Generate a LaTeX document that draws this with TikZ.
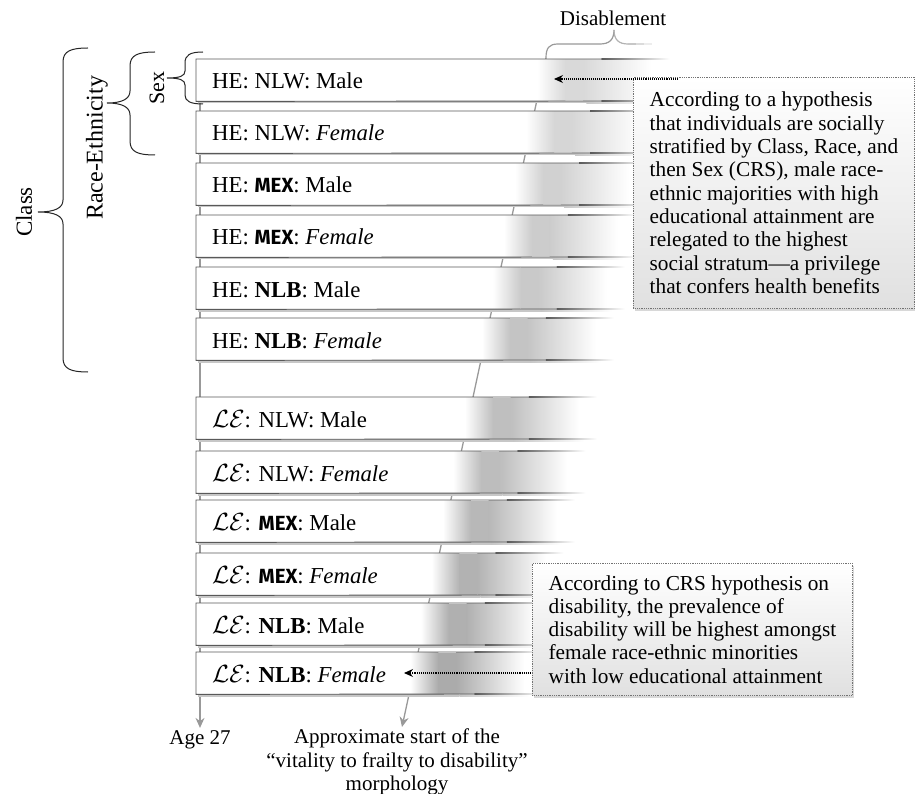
\documentclass[tikz,border=0pt]{standalone}
\usepackage{fontspec}
\setmainfont{Liberation Serif}
\newfontfamily\mexfont{Fira Sans}
\usetikzlibrary{arrows.meta,shadows}
\newcommand\myMEX{{\mexfont\bfseries\fontsize{20.5}{22}\selectfont MEX}}
\newcommand\myLE{{\fontsize{24}{26}\selectfont$\mathcal{L}\mathcal{E}$}}
\begin{document}
\begin{tikzpicture}[x=1pt,y=-1pt,
  txt/.style={font=\fontsize{21}{23.5}\selectfont, inner sep=0pt},
  lbl/.style={font=\fontsize{22.8}{26}\selectfont, anchor=base west, inner sep=0pt},
  barbox/.style={fill=white, anchor=north west, minimum height=42pt, inner sep=0pt},
  barline/.style={draw=black!65, line width=0.9pt},
  guide/.style={draw=black!40, line width=1.3pt, -{Stealth[length=10pt,width=9pt]}},
  dotarrow/.style={draw=black, line width=1.1pt, densely dotted, -{Stealth[length=9pt,width=8pt]}},
  bracestyle/.style={draw=black!85, line width=1pt},
  callout/.style={draw=black!55, densely dotted, line width=0.8pt, top color=white, bottom color=black!12,
     anchor=north west, align=left, inner xsep=4pt, inner ysep=0pt,
     font=\fontsize{21.3}{23.3}\selectfont,
     drop shadow={shadow xshift=2pt, shadow yshift=-2.5pt, opacity=0.25, fill=black!60}}
]
\fill[white] (0,0) rectangle (915,794);
\useasboundingbox (0,0) rectangle (915,794);

% guide lines
\coordinate (vtop) at (200,59);
\coordinate (dtop) at (546,58);
\coordinate (dtip) at (402,727);
\node[txt, anchor=base, inner sep=2pt] (age) at (200,744) {Age 27};
\node[txt, anchor=north, align=center] (morph) at (397,729)
  {Approximate start of the\\“vitality to frailty to disability”\\morphology};
\draw[guide] (vtop) -- (age.north);
\draw[guide] (dtop) -- (dtip);

% bars
\foreach \t/\txt [count=\i] in {
  59/{HE: NLW: Male},
  111/{HE: NLW: \textit{Female}},
  163/{HE: \myMEX: Male},
  215/{HE: \myMEX: \textit{Female}},
  267/{HE: \textbf{NLB}: Male},
  318/{HE: \textbf{NLB}: \textit{Female}},
  397/{\myLE: NLW: Male},
  451/{\myLE: NLW: \textit{Female}},
  500/{\myLE: \myMEX: Male},
  553/{\myLE: \myMEX: \textit{Female}},
  603/{\myLE: \textbf{NLB}: Male},
  652/{\myLE: \textbf{NLB}: \textit{Female}}} {
  \pgfmathsetmacro\d{546-0.2142*(\t+21-58)}
  \pgfmathsetmacro\w{\d+125-196}
  \pgfmathtruncatemacro\g{15+(\i-1)*1.7}
  % shadow
  \fill[black!22] (197.5,\t+42) rectangle (\d+45,\t+44.5);
  \shade[left color=black!22, right color=white] (\d+45,\t+42) rectangle (\d+115,\t+44.5);
  \node[barbox, minimum width=\w pt] (b\i) at (196,\t) {};
  % interior shading
  \shade[left color=white, right color=black!\g] (\d-4,\t+0.5) rectangle (\d+24,\t+41.5);
  \fill[black!\g] (\d+23.8,\t+0.5) rectangle (\d+42,\t+41.5);
  \shade[left color=black!\g, right color=white] (\d+41.8,\t+0.5) rectangle (\d+110,\t+41.5);
  % border lines fading out
  \draw[barline] (\d+60,\t) -- (b\i.north west) -- (b\i.south west) -- (\d+60,\t+42);
  \shade[left color=black!65, right color=white] (\d+60,\t-0.45) rectangle (\d+128,\t+0.45);
  \shade[left color=black!65, right color=white] (\d+60,\t+41.55) rectangle (\d+128,\t+42.45);
  \node[lbl] (l\i) at (212,\t+30) {\txt};
}

% braces
\draw[bracestyle] (203,52) .. controls (190,52) and (185,55) .. (185,63) -- (185,71)
  .. controls (185,76) and (180,78) .. (167,78) .. controls (180,78) and (185,80) .. (185,85)
  -- (185,95) .. controls (185,101) and (190,104) .. (203,104);
\draw[bracestyle] (155,52) .. controls (138,52) and (130,55) .. (130,66) -- (130,91)
  .. controls (130,99) and (122,103) .. (107,103) .. controls (122,103) and (130,107) .. (130,115)
  -- (130,141) .. controls (130,152) and (138,155) .. (155,155);
\draw[bracestyle] (88,48) .. controls (71,48) and (63,51) .. (63,62) -- (63,200)
  .. controls (63,208) and (55,212) .. (38,212) .. controls (55,212) and (63,216) .. (63,224)
  -- (63,358) .. controls (63,369) and (71,372) .. (88,372);
\node[txt, font=\fontsize{22}{26}\selectfont, rotate=90] (sex) at (157,88) {Sex};
\node[txt, font=\fontsize{24}{28}\selectfont, rotate=90] (race) at (97,148) {Race-Ethnicity};
\node[txt, font=\fontsize{23}{27}\selectfont, rotate=90] (class) at (24,212) {Class};

% disablement brace (right half fading out)
\draw[draw=black!40, line width=1.2pt] (546,58) .. controls (546,48) and (549,44) .. (558,44) -- (600,44)
  .. controls (609,44) and (614,40) .. (614,30);
\draw[draw=black!30, line width=1.2pt] (614,30) .. controls (614,40) and (619,44) .. (628,44);
\draw[draw=black!22, line width=1.2pt] (628,44) -- (636,44);
\draw[draw=black!14, line width=1.2pt] (636,44) -- (644,44);
\draw[draw=black!7, line width=1.2pt] (644,44) -- (652,44);
\node[txt] (dis) at (613,18) {Disablement};

% callouts
\node[callout, minimum width=281pt, minimum height=231pt] (c1) at (633,77)
 {According to a hypothesis\\that individuals are socially\\stratified by Class, Race, and\\then Sex (CRS), male race-\\ethnic majorities with high\\educational attainment are\\relegated to the highest\\social stratum—a privilege\\that confers health benefits};
\node[callout, minimum width=320pt, minimum height=132pt] (c2) at (532,563)
 {According to CRS hypothesis on\\disability, the prevalence of\\disability will be highest amongst\\female race-ethnic minorities\\with low educational attainment};

\coordinate (c1s) at (678,79);
\coordinate (c1t) at (554,79);
\coordinate (c2s) at (531,673);
\coordinate (c2t) at (404,673);
\draw[dotarrow] (c1s) -- (c1t);
\draw[dotarrow] (c2s) -- (c2t);
\end{tikzpicture}
\end{document}
